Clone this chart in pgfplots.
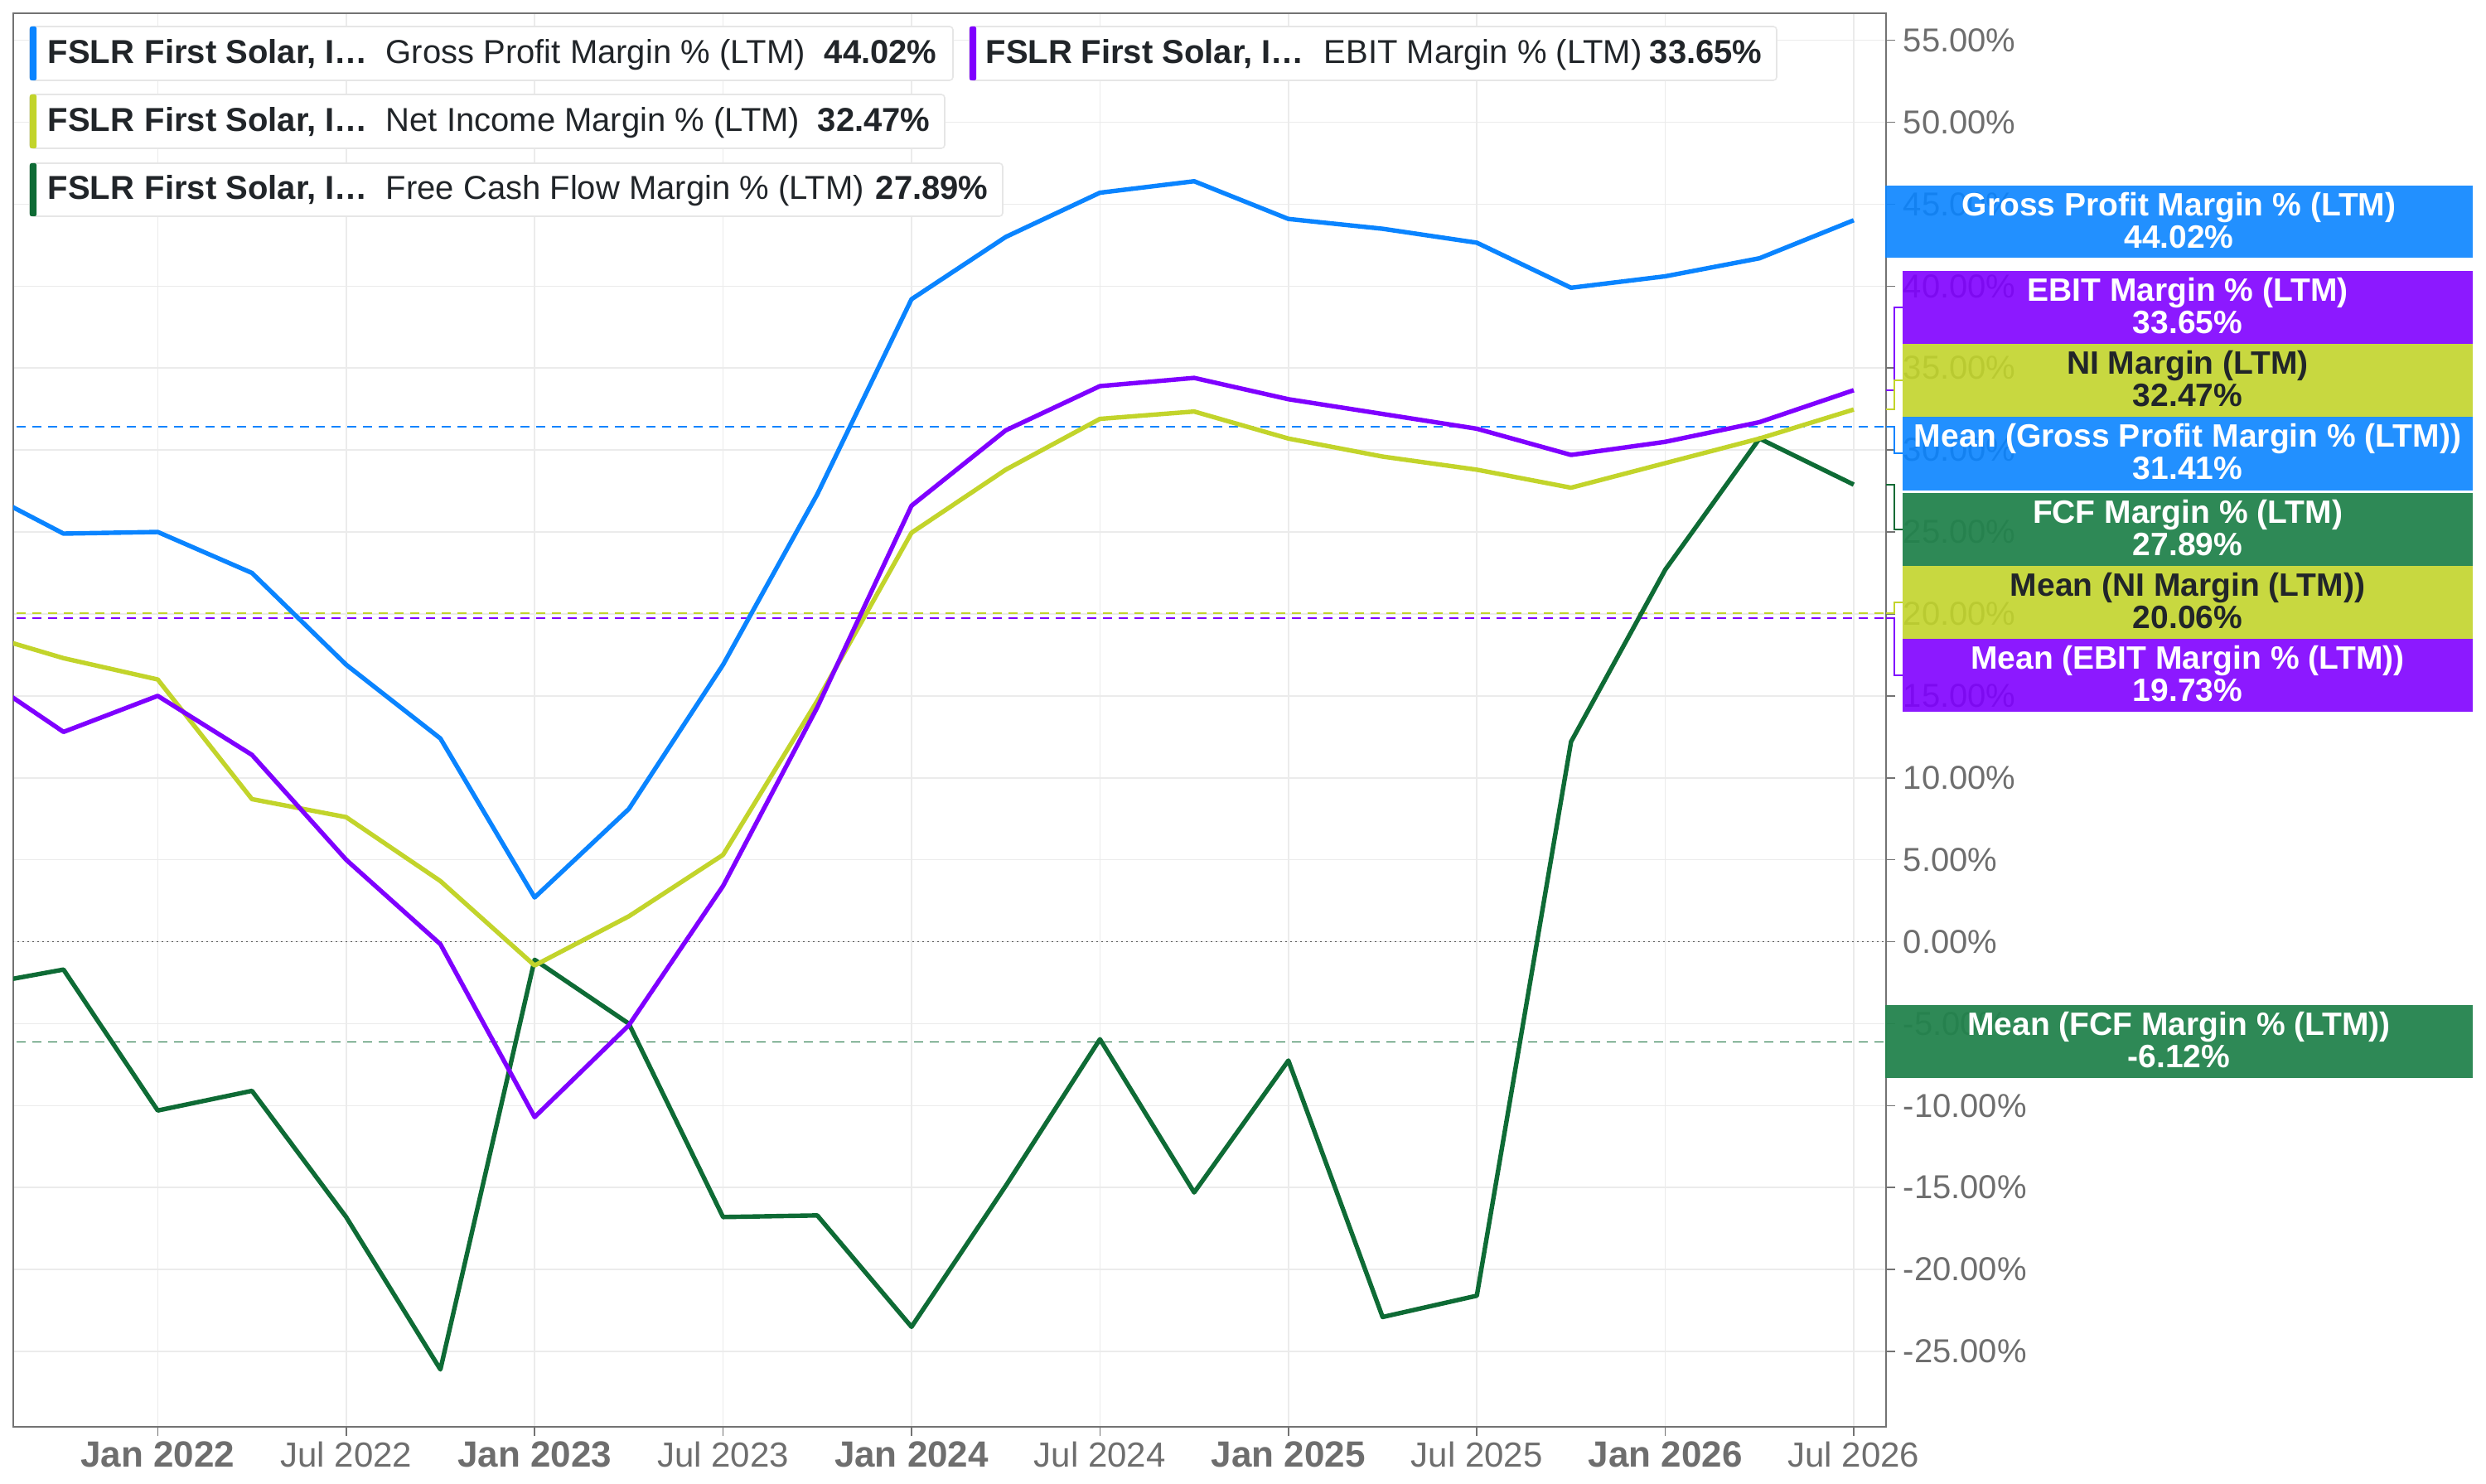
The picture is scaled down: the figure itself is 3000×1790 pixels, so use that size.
\documentclass[border=0pt]{standalone}
\usepackage{pgfplots}
\pgfplotsset{compat=1.18}
\usepackage{pgfplotstable}
\usepackage{fontspec}
\setmainfont{Liberation Sans}
\definecolor{gpc}{HTML}{0A84FF}
\definecolor{ebc}{HTML}{7F00FF}
\definecolor{nic}{HTML}{C2D42B}
\definecolor{fcc}{HTML}{0E6B35}
\definecolor{fcbox}{HTML}{23834D}
\definecolor{gridc}{HTML}{EBEBEB}
\definecolor{axc}{HTML}{737373}
\definecolor{tickc}{HTML}{6E6E6E}
\definecolor{txt}{HTML}{212529}
\definecolor{legbord}{HTML}{E6E6E6}
\definecolor{zeroc}{HTML}{555555}

% x = months since Jan 2022
\pgfplotstableread{
x   gp     ebit   ni     fcf
-6  27.9   16.7   19.0   -2.75
-3  24.9   12.8   17.3   -1.7
0   25.0   15.0   16.0   -10.3
3   22.5   11.4   8.7    -9.1
6   16.9   5.0    7.6    -16.8
9   12.4   -0.15  3.7    -26.1
12  2.7    -10.7  -1.45  -1.1
15  8.1    -5.1   1.55   -5.0
18  16.9   3.4    5.3    -16.8
21  27.3   14.3   14.7   -16.7
24  39.2   26.6   24.95  -23.5
27  43.0   31.2   28.8   -14.9
30  45.7   33.9   31.9   -5.95
33  46.4   34.4   32.35  -15.3
36  44.1   33.1   30.7   -7.25
39  43.5   32.2   29.6   -22.9
42  42.65  31.3   28.8   -21.6
45  39.9   29.7   27.7   12.2
48  40.6   30.5   29.2   22.7
51  41.7   31.7   30.7   30.7
54  44.02  33.65  32.47  27.89
}\data

\newcommand{\jan}[1]{{\bfseries\fontsize{11}{12}\selectfont #1}}
\newcommand{\jul}[1]{{\fontsize{10.5}{12}\selectfont #1}}

\begin{document}
\begin{tikzpicture}
\begin{axis}[
  at={(0,0)}, anchor=south west,
  scale only axis, width=565pt, height=426.5pt,
  xmin=-4.6, xmax=55.03, ymin=-29.6, ymax=56.65,
  axis line style={draw=axc, line width=0.45pt},
  xtick={0,6,...,54},
  xticklabels={\jan{Jan 2022},\jul{Jul 2022},\jan{Jan 2023},\jul{Jul 2023},\jan{Jan 2024},\jul{Jul 2024},\jan{Jan 2025},\jul{Jul 2025},\jan{Jan 2026},\jul{Jul 2026}},
  xticklabel style={anchor=base, inner sep=0pt, yshift=-9.25pt, text=tickc},
  ytick={-25,-20,...,55},
  yticklabels={-25.00\%,-20.00\%,-15.00\%,-10.00\%,-5.00\%,0.00\%,5.00\%,10.00\%,15.00\%,20.00\%,25.00\%,30.00\%,35.00\%,40.00\%,45.00\%,50.00\%,55.00\%},
  yticklabel style={anchor=west, inner sep=0pt, xshift=2.25pt, font=\fontsize{10}{12}\selectfont, text=tickc},
  xtick pos=left, ytick pos=right, xticklabel pos=left, yticklabel pos=right,
  tick align=outside, major tick length=2.75pt,
  tick style={draw=axc, line width=0.4pt},
  grid=major, major grid style={draw=gridc, line width=0.4pt},
]
\addplot[zeroc, line width=0.45pt, dash pattern=on 0.5pt off 1pt, forget plot] coordinates {(-10,0) (60,0)};
\addplot[gpc, line width=0.45pt, dash pattern=on 2.75pt off 2pt, forget plot] coordinates {(-10,31.41) (60,31.41)};
\addplot[nic, line width=0.45pt, dash pattern=on 2.75pt off 2pt, forget plot] coordinates {(-10,20.06) (60,20.06)};
\addplot[ebc, line width=0.45pt, dash pattern=on 2.75pt off 2pt, forget plot] coordinates {(-10,19.73) (60,19.73)};
\addplot[fcc, line width=0.45pt, dash pattern=on 2.75pt off 2pt, forget plot] coordinates {(-10,-6.12) (60,-6.12)};
\addplot[fcc, line width=1.35pt, line join=round] table[x=x,y=fcf] {\data};
\addplot[nic, line width=1.35pt, line join=round] table[x=x,y=ni] {\data};
\addplot[ebc, line width=1.35pt, line join=round] table[x=x,y=ebit] {\data};
\addplot[gpc, line width=1.35pt, line join=round] table[x=x,y=gp] {\data};
\end{axis}

\begin{scope}[x=0.25pt, y=-0.25pt, shift={(-4pt,430.5pt)}]
  \tikzset{
    leg/.style={anchor=base west, inner sep=0pt, text=txt, font=\fontsize{10}{12}\selectfont},
    lb/.style={anchor=base, inner sep=0pt, font=\bfseries\fontsize{9.75}{11}\selectfont},
  }
  % legend boxes
  \draw[legbord, line width=0.4pt, fill=white, rounded corners=1pt] (36,32) rectangle (1150,97);
  \fill[gpc, rounded corners=0.5pt] (36,32) rectangle (44,97);
  \node[leg] at (57,77) {\textbf{FSLR}};
  \node[leg] at (174,77) {\textbf{First Solar, I…}};
  \node[leg] at (465,77) {Gross Profit Margin \% (LTM)};
  \node[leg] at (994,77) {\textbf{44.02\%}};

  \draw[legbord, line width=0.4pt, fill=white, rounded corners=1pt] (1170,32) rectangle (2144,97);
  \fill[ebc, rounded corners=0.5pt] (1170,32) rectangle (1178,97);
  \node[leg] at (1189,77) {\textbf{FSLR}};
  \node[leg] at (1304,77) {\textbf{First Solar, I…}};
  \node[leg] at (1597,77) {EBIT Margin \% (LTM)};
  \node[leg] at (1990,77) {\textbf{33.65\%}};

  \draw[legbord, line width=0.4pt, fill=white, rounded corners=1pt] (36,114) rectangle (1140,179);
  \fill[nic, rounded corners=0.5pt] (36,114) rectangle (44,179);
  \node[leg] at (57,159) {\textbf{FSLR}};
  \node[leg] at (174,159) {\textbf{First Solar, I…}};
  \node[leg] at (465,159) {Net Income Margin \% (LTM)};
  \node[leg] at (986,159) {\textbf{32.47\%}};

  \draw[legbord, line width=0.4pt, fill=white, rounded corners=1pt] (36,197) rectangle (1210,261);
  \fill[fcc, rounded corners=0.5pt] (36,197) rectangle (44,261);
  \node[leg] at (57,241) {\textbf{FSLR}};
  \node[leg] at (174,241) {\textbf{First Solar, I…}};
  \node[leg] at (465,241) {Free Cash Flow Margin \% (LTM)};
  \node[leg] at (1056,241) {\textbf{27.89\%}};

  % connectors
  \draw[ebc, line width=0.4pt] (2276,471) -- (2286,471) -- (2286,371) -- (2296,371);
  \draw[nic, line width=0.4pt] (2276,494) -- (2286,494) -- (2286,459) -- (2296,459);
  \draw[gpc, line width=0.4pt] (2276,515) -- (2286,515) -- (2286,547) -- (2296,547);
  \draw[fcc, line width=0.4pt] (2276,585) -- (2286,585) -- (2286,639) -- (2296,639);
  \draw[nic, line width=0.4pt] (2276,740) -- (2286,740) -- (2286,727) -- (2296,727);
  \draw[ebc, line width=0.4pt] (2276,746) -- (2286,746) -- (2286,815) -- (2296,815);

  % value boxes
  \fill[gpc, fill opacity=0.9] (2275,224) rectangle (2984,311);
  \node[lb, text=white] at (2629.5,260.5) {Gross Profit Margin \% (LTM)};
  \node[lb, text=white] at (2629.5,299.5) {44.02\%};

  \fill[ebc, fill opacity=0.9] (2296,327) rectangle (2984,415);
  \node[lb, text=white] at (2640,363.5) {EBIT Margin \% (LTM)};
  \node[lb, text=white] at (2640,402.5) {33.65\%};

  \fill[nic, fill opacity=0.9] (2296,415) rectangle (2984,503);
  \node[lb, text=txt] at (2640,451.5) {NI Margin (LTM)};
  \node[lb, text=txt] at (2640,490.5) {32.47\%};

  \fill[gpc, fill opacity=0.9] (2296,503) rectangle (2984,592);
  \node[lb, text=white] at (2640,539.5) {Mean (Gross Profit Margin \% (LTM))};
  \node[lb, text=white] at (2640,578.5) {31.41\%};

  \fill[fcbox, fill opacity=0.95] (2296,595) rectangle (2984,683);
  \node[lb, text=white] at (2640,631.5) {FCF Margin \% (LTM)};
  \node[lb, text=white] at (2640,670.5) {27.89\%};

  \fill[nic, fill opacity=0.9] (2296,683) rectangle (2984,771);
  \node[lb, text=txt] at (2640,719.5) {Mean (NI Margin (LTM))};
  \node[lb, text=txt] at (2640,758.5) {20.06\%};

  \fill[ebc, fill opacity=0.9] (2296,771) rectangle (2984,859);
  \node[lb, text=white] at (2640,807.5) {Mean (EBIT Margin \% (LTM))};
  \node[lb, text=white] at (2640,846.5) {19.73\%};

  \fill[fcbox, fill opacity=0.95] (2275,1213) rectangle (2984,1301);
  \node[lb, text=white] at (2629.5,1249.5) {Mean (FCF Margin \% (LTM))};
  \node[lb, text=white] at (2629.5,1288.5) {-6.12\%};

  \path[use as bounding box] (0,0) rectangle (3000,1790);
\end{scope}
\end{tikzpicture}
\end{document}
